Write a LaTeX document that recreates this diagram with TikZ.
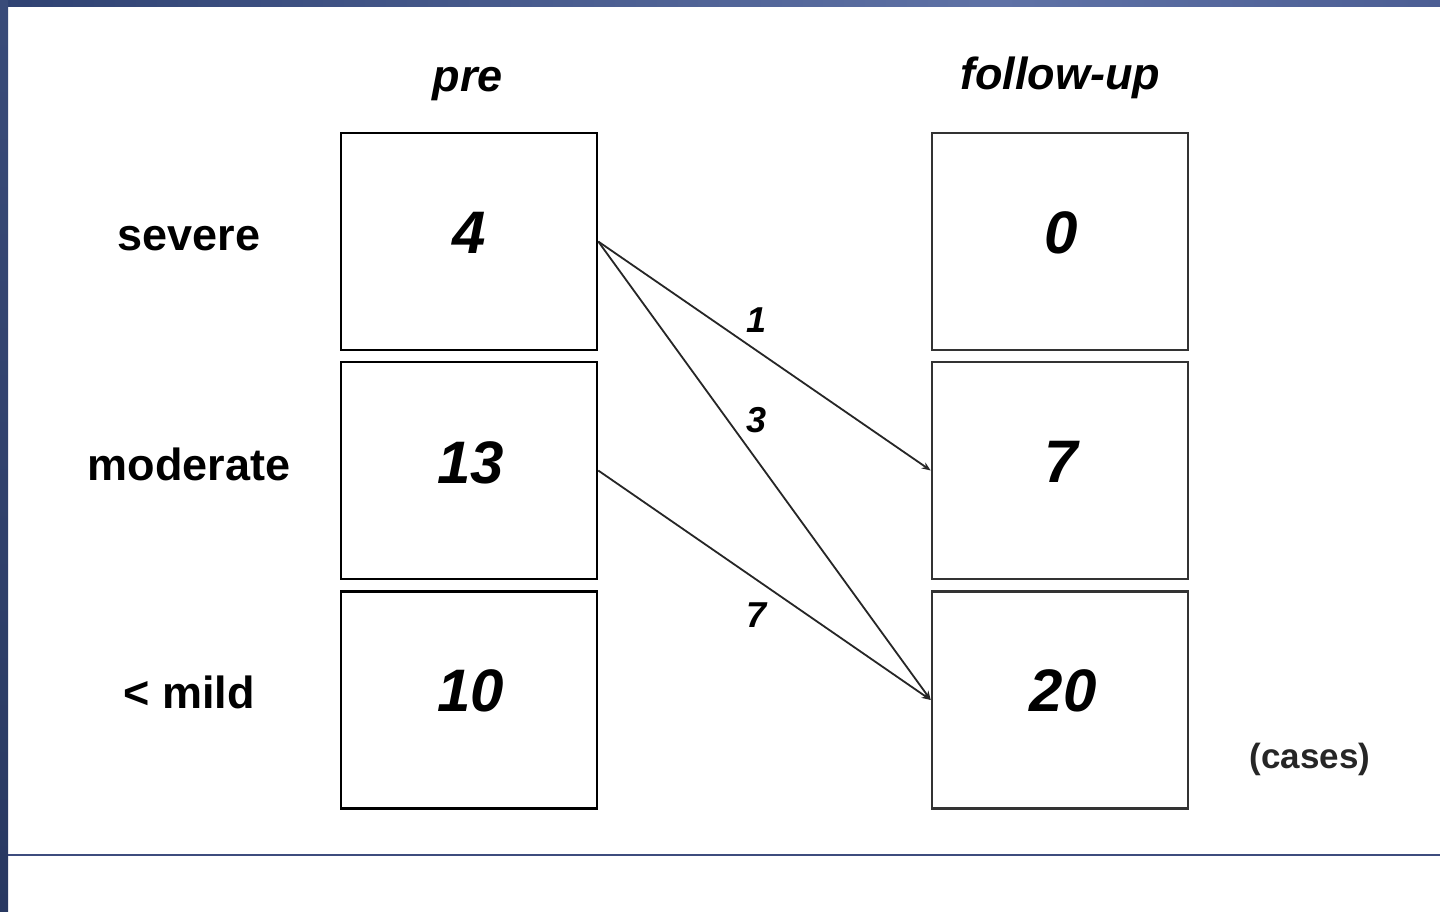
\documentclass[tikz,border=0pt]{standalone}
\usepackage{fontspec}
\setmainfont{Liberation Sans}
\usetikzlibrary{arrows.meta}
\definecolor{bardark}{HTML}{2F4272}
\definecolor{barlight}{HTML}{5F72A6}
\definecolor{barmid}{HTML}{4C5E94}
\definecolor{rulecol}{HTML}{3E4C7E}
\tikzset{
  box/.style={draw=black, line width=2.5pt, minimum width=256pt, minimum height=217pt, inner sep=0pt},
  fbox/.style={box, draw=black!80},
  num/.style={font=\fontsize{60}{70}\selectfont\bfseries\itshape},
  rowlab/.style={font=\fontsize{45}{54}\selectfont\bfseries},
  collab/.style={font=\fontsize{45}{54}\selectfont\bfseries\itshape},
  elab/.style={font=\fontsize{36}{42}\selectfont\bfseries\itshape},
  flow/.style={draw=black!85, line width=1.8pt, -{Stealth[length=9pt,width=7pt]}},
}
\begin{document}
\begin{tikzpicture}[x=1pt,y=-1pt]
\useasboundingbox (0,0) rectangle (1440,912);
\fill[white] (0,0) rectangle (1440,912);
% frame
\shade[left color=bardark, right color=barlight] (0,0) rectangle (1000,7);
\shade[left color=barlight, right color=barmid] (1000,0) rectangle (1440,7);
\shade[top color=bardark!95!white, bottom color=bardark!85!black] (0,0) rectangle (8,912);
\draw[rulecol, line width=1.5pt] (8,855) -- (1440,855);
% column headers
\node[collab] (hpre) at (468,84) {pre};
\node[collab] (hfol) at (1060,78) {follow-up};
% row labels
\node[rowlab] (lsev) at (189,239) {severe};
\node[rowlab] (lmod) at (189,464) {moderate};
\node[rowlab] (lmil) at (189,692) {< mild};
% boxes
\node[box] (ps) at (469,241.5) {};
\node[box] (pm) at (469,470.5) {};
\node[box] (pl) at (469,700) {};
\node[fbox] (fs) at (1060,241.5) {};
\node[fbox] (fm) at (1060,470.5) {};
\node[fbox] (fl) at (1060,700) {};
% numbers
\node[num] (n1) at (469,233) {4};
\node[num] (n2) at (471,463) {13};
\node[num] (n3) at (471,691) {10};
\node[num] (n4) at (1061,233) {0};
\node[num] (n5) at (1061,462) {7};
\node[num] (n6) at (1063,691) {20};
% flows
\draw[flow] (ps.east) -- (fm.west);
\draw[flow] (ps.east) -- (fl.west);
\draw[flow] (pm.east) -- (fl.west);
\node[elab] (e1) at (757,320) {1};
\node[elab] (e3) at (757,420) {3};
\node[elab] (e7) at (757,615) {7};
% unit
\node[font=\fontsize{35}{42}\selectfont\bfseries, text=black!85] (unit) at (1310,759) {(cases)};
\end{tikzpicture}
\end{document}
